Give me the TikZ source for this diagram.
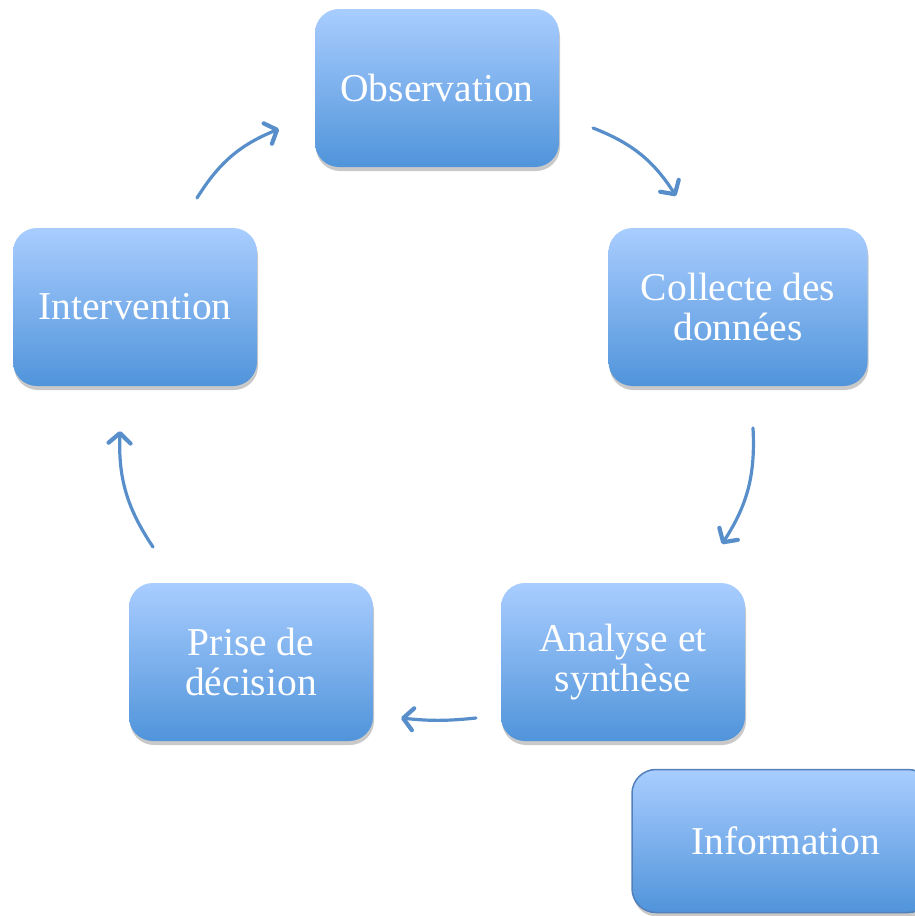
\documentclass[tikz,border=0pt]{standalone}
\usepackage{fontspec}
\setmainfont{Liberation Serif}
\usetikzlibrary{arrows.meta,shadows}
\definecolor{boxtop}{RGB}{169,205,255}
\definecolor{boxbot}{RGB}{80,148,218}
\definecolor{flowc}{RGB}{88,143,203}
\definecolor{edgec}{RGB}{82,128,186}
\begin{document}
\begin{tikzpicture}[x=1pt,y=-1pt,
  stepbox/.style={rounded corners=24pt,top color=boxtop,bottom color=boxbot,
    text=white,align=center,minimum width=244pt,minimum height=158pt,
    font=\fontsize{39.5}{40}\selectfont,
    drop shadow={shadow xshift=1pt,shadow yshift=-4pt,opacity=.3,fill=black!70}},
  flow/.style={line width=3.2pt,flowc,line cap=round,
    -{Straight Barb[length=10pt,width=22pt,line width=4.2pt,round]}}]

\clip (0,0) rectangle (915,916);

\node[stepbox] (obs) at (437,88) {Observation};
\node[stepbox,minimum width=259pt] (col) at (738,307) {Collecte des\\données};
\node[stepbox] (ana) at (623,662) {Analyse et\\synthèse};
\node[stepbox] (pri) at (251,662) {Prise de\\décision};
\node[stepbox] (int) at (135,307) {Intervention};

%info
\node[stepbox,draw=edgec,line width=1.5pt,minimum width=300pt,minimum height=143pt] (inf) at (782,841) {};
\node[text=white,font=\fontsize{39.5}{40}\selectfont] (inft) at (786,841) {Information};

\coordinate (a1) at (593,128); \coordinate (b1) at (676,196);
\coordinate (a2) at (753,428); \coordinate (b2) at (722,544);
\coordinate (a3) at (476,718); \coordinate (b3) at (401,718);
\coordinate (a4) at (153,547); \coordinate (b4) at (120,431);
\coordinate (a5) at (197,198); \coordinate (b5) at (279,129);

\draw[flow] (a1) to[bend left=18] (b1);
\draw[flow] (a2) to[bend left=18] (b2);
\draw[flow] (a3) to[bend left=6] (b3);
\draw[flow] (a4) to[bend left=18] (b4);
\draw[flow] (a5) to[bend left=18] (b5);
\end{tikzpicture}
\end{document}
